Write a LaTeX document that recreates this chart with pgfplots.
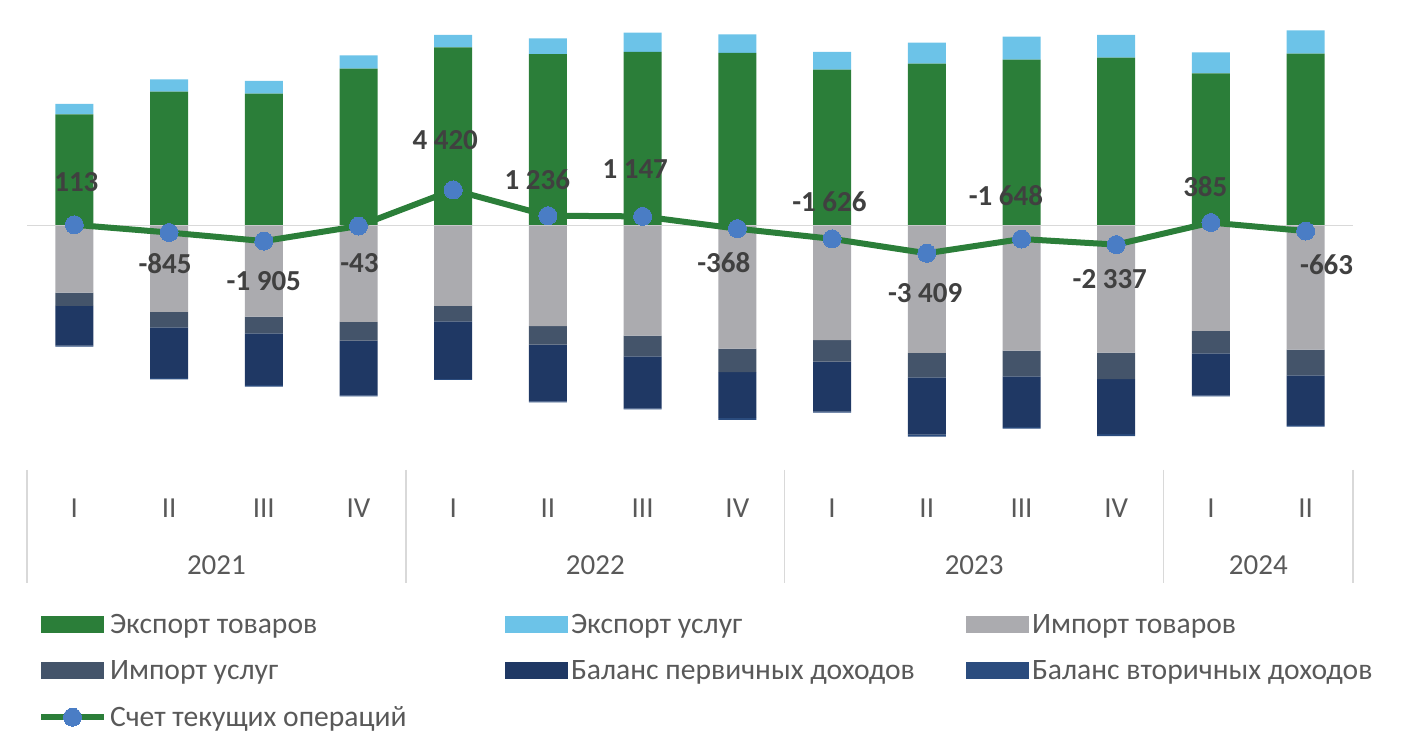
\documentclass[border=0pt]{standalone}
\usepackage{fontspec}
\setmainfont{Carlito}
\usepackage{pgfplots}
\usepackage{pgfplotstable}
\pgfplotsset{compat=1.18}

\definecolor{egc}{HTML}{2B7E39}
\definecolor{esc}{HTML}{6CC3E8}
\definecolor{igc}{HTML}{ABABAF}
\definecolor{isc}{HTML}{44546A}
\definecolor{pic}{HTML}{1F3864}
\definecolor{sic}{HTML}{2B4C7E}
\definecolor{linec}{HTML}{2B7E39}
\definecolor{markc}{HTML}{4A7DC5}
\definecolor{gridc}{HTML}{D9D9D9}
\definecolor{txtc}{HTML}{595959}
\definecolor{labc}{HTML}{404040}

\pgfplotstableread{
q eg es ig is pi si ca dx dy
0 13770 1275 -8280 -1645 -4907 -124 113 1 21.5
1 16560 1530 -10665 -1890 -6242 -185 -845 -2 -15.3
2 16315 1570 -11250 -2050 -6415 -185 -1905 0 -20
3 19405 1655 -11900 -2310 -6749 -124 -43 0.5 -18.3
4 22050 1520 -9925 -1890 -7132 -124 4420 -4 25
5 21220 1940 -12400 -2310 -6996 -124 1236 -5.3 17.8
6 21470 2385 -13600 -2545 -6427 -124 1147 -3.7 23.8
7 21345 2310 -15200 -2915 -5649 -247 -368 -6.8 -17.2
8 19280 2190 -14130 -2680 -6180 -124 -1626 -1.3 18.8
9 20020 2595 -15735 -3005 -7095 -247 -3409 -0.8 -19.8
10 20520 2845 -15450 -3165 -6291 -185 -1648 -7.8 21.5
11 20765 2805 -15700 -3250 -6798 -247 -2337 -3.2 -17
12 18840 2595 -13015 -2755 -5191 -124 385 -2.8 18
13 21260 2890 -15325 -3165 -6168 -185 -663 10.5 -16.7
}\data

\pgfplotsset{
  base/.style={
    at={(13.5pt,142pt)}, anchor=south west,
    scale only axis, width=663pt, height=225pt,
    xmin=-0.5, xmax=13.5, ymin=-30196, ymax=25425,
  },
  barimg/.style={legend image code/.code={\fill[##1] (0pt,-3.85pt) rectangle (31.5pt,4.65pt);}},
  lineimg/.style={legend image code/.code={\draw[mark repeat=2, mark phase=2, ##1] plot coordinates {(0pt,0.4pt) (15.75pt,0.4pt) (31.5pt,0.4pt)};}},
}
\tikzset{
  sepline/.style={gridc, line width=0.75pt},
  yrlab/.style={font=\fontsize{14.5}{16}\selectfont, text=txtc, anchor=center, yshift=-47.5pt},
}

\begin{document}
\begin{tikzpicture}
\useasboundingbox (0,0) rectangle (702pt,377pt);

% positive stack
\begin{axis}[base, hide axis, ybar stacked, bar width=19pt]
\draw[gridc, line width=0.75pt] (axis cs:-0.5,0) -- (axis cs:13.5,0);
\addplot[fill=egc, draw=none] table[x=q, y=eg] {\data};
\addplot[fill=esc, draw=none] table[x=q, y=es] {\data};
\end{axis}

% negative stack
\begin{axis}[base, hide axis, ybar stacked, bar width=19pt]
\addplot[fill=igc, draw=none] table[x=q, y=ig] {\data};
\addplot[fill=isc, draw=none] table[x=q, y=is] {\data};
\addplot[fill=pic, draw=none] table[x=q, y=pi] {\data};
\addplot[fill=sic, draw=none] table[x=q, y=si] {\data};
\end{axis}

% line, labels, legend
\begin{axis}[base, clip=false,
  axis x line*=bottom, axis y line=none,
  x axis line style={draw=none},
  ytick=\empty,
  xtick={0,...,13},
  xticklabels={I,II,III,IV,I,II,III,IV,I,II,III,IV,I,II},
  major tick length=0pt,
  xticklabel style={anchor=center, yshift=-19pt, font=\fontsize{14.5}{16}\selectfont, text=txtc},
  legend columns=3,
  legend cell align=left,
  legend style={at={(axis description cs:0.00830,-0.3207)}, anchor=north west,
    draw=none, fill=none, inner sep=0pt, outer sep=0pt,
    column sep=1.5pt, row sep=12pt,
    font=\fontsize{14.8}{16}\selectfont, text=txtc,
    nodes={inner sep=0pt}},
]
\addlegendimage{barimg, fill=egc, draw=none}
\addlegendentry{\makebox[196pt][l]{Экспорт товаров}}
\addlegendimage{barimg, fill=esc, draw=none}
\addlegendentry{\makebox[196pt][l]{Экспорт услуг}}
\addlegendimage{barimg, fill=igc, draw=none}
\addlegendentry{\makebox[196pt][l]{Импорт товаров}}
\addlegendimage{barimg, fill=isc, draw=none}
\addlegendentry{\makebox[196pt][l]{Импорт услуг}}
\addlegendimage{barimg, fill=pic, draw=none}
\addlegendentry{\makebox[196pt][l]{Баланс первичных доходов}}
\addlegendimage{barimg, fill=sic, draw=none}
\addlegendentry{\makebox[196pt][l]{Баланс вторичных доходов}}

\addplot[color=linec, line width=3pt, mark=*, mark size=4.5pt,
  mark options={fill=markc, draw=markc, line width=0pt},
  lineimg,
  nodes near coords, point meta=explicit,
  visualization depends on={\thisrow{dx} \as \dx},
  visualization depends on={\thisrow{dy} \as \dy},
  every node near coord/.append style={anchor=center, xshift=\dx pt, yshift=\dy pt,
    font=\fontsize{14.5}{16}\selectfont\bfseries, text=labc, inner sep=0pt},
  nodes near coords={\pgfmathprintnumber[fixed, precision=0, 1000 sep={\ }, assume math mode=true]{\pgfplotspointmeta}},
] table[x=q, y=ca, meta=ca] {\data};
\addlegendentry{Счет текущих операций}

\draw[sepline] (axis cs:-0.5,-30196) -- ++(0pt,-56.5pt);
\draw[sepline] (axis cs:3.5,-30196) -- ++(0pt,-56.5pt);
\draw[sepline] (axis cs:7.5,-30196) -- ++(0pt,-56.5pt);
\draw[sepline] (axis cs:11.5,-30196) -- ++(0pt,-56.5pt);
\draw[sepline] (axis cs:13.5,-30196) -- ++(0pt,-56.5pt);
\node[yrlab] at (axis cs:1.5,-30196) {2021};
\node[yrlab] at (axis cs:5.5,-30196) {2022};
\node[yrlab] at (axis cs:9.5,-30196) {2023};
\node[yrlab] at (axis cs:12.5,-30196) {2024};
\end{axis}
\end{tikzpicture}
\end{document}
